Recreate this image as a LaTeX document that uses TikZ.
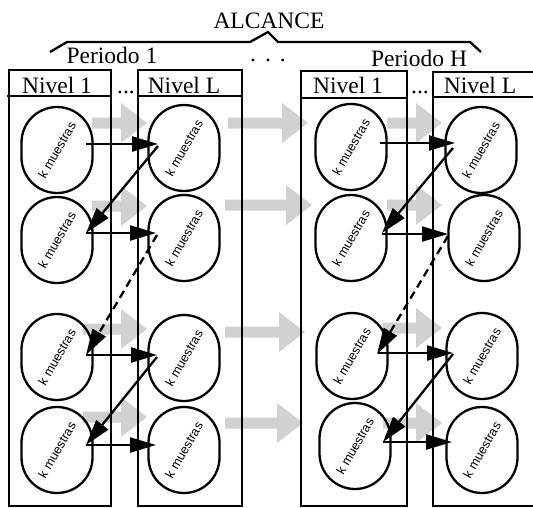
\documentclass[tikz,border=0pt]{standalone}
\usepackage{fontspec}
\setmainfont{Liberation Serif}
\setsansfont{Liberation Sans}
\usepackage{graphicx}
\usetikzlibrary{arrows.meta,shapes.misc}
\begin{document}
\begin{tikzpicture}[x=1pt,y=-1pt,
  line width=2.3pt,
  lbl/.style={font=\fontsize{23.5}{26}\selectfont, inner sep=0pt, anchor=base},
  sample/.style={draw, line width=2.3pt, rounded rectangle, rotate=90,
    minimum width=86pt, minimum height=71pt, inner sep=0pt,
    font=\sffamily\fontsize{12.7}{14}\selectfont},
  link/.style={line width=2.3pt, -{Triangle[length=26pt,width=15pt]}},
  backlink/.style={link},
  pics/garrow/.style={code={
    \fill[black!18] (0,-5.5) -- (#1-26,-5.5) -- (#1-26,-20) -- (#1,0)
      -- (#1-26,20) -- (#1-26,5.5) -- (0,5.5) -- cycle;}}
]
\useasboundingbox (0,0) rectangle (533,507);
\clip (0,0) rectangle (533,507);

% broad grey arrows: level to level and period to period
\foreach \y/\t in {123/92, 206/92, 329/83, 417/83} \pic at (\t,\y) {garrow={147-\t}};
\foreach \y/\t/\h in {123/228/308, 205/225/312, 332/225/305, 423/225/303} \pic at (\t,\y) {garrow={\h-\t}};
\foreach \y/\t in {123/387, 205/387, 328/383, 423/383} \pic at (\t,\y) {garrow={442-\t}};

% scope brace
\node[lbl] (alc) at (269,28) {ALCANCE};
\draw[line join=miter] (50,52) -- (67,42) -- (250,42) -- (268,32) -- (278,42) -- (470,42) -- (481,52);
\node[lbl] (p1) at (112,63) {Periodo 1};
\node[lbl] (ph) at (419,66) {Periodo H};
\node[lbl] (gap) at (268,61) {.\hspace{9pt}.\hspace{9pt}.};

% level columns
\draw (9,70) rectangle (111,506);
\draw (138,70) rectangle (242,506);
\draw (301,71) rectangle (407,506);
\draw (433,72) rectangle (545,506);
\draw (7,96) -- (111,96);
\draw (138,96) -- (242,96);
\draw (300,98) -- (407,98);
\draw (433,97) -- (545,97);

\node[lbl] (n11) at (57,93) {Nivel 1};
\node[lbl] (d1) at (126,93) {...};
\node[lbl] (n1l) at (184,93) {Nivel L};
\node[lbl] (nh1) at (348,93) {Nivel 1};
\node[lbl] (dh) at (420,93) {...};
\node[lbl] (nhl) at (480,93) {Nivel L};

% sample groups
\foreach \n/\x/\y in {a1/57/150, a2/57/240, a3/57/357, a4/57/450,
                      b1/184/148, b2/184/238, b3/184/358, b4/184/450,
                      c1/351/147, c2/351/238, c3/352/356, c4/355/446,
                      d1/481/150, d2/484/238, d3/482/356, d4/482/450}
  \node[sample] (\n) at (\x,\y) {\rotatebox{-30}{k muestras}};

% flow of samples, period 1
\draw[link] ([shift={(29,-6)}]a1.center) -- ([shift={(-26,-4)}]b1.center);
\draw[backlink] ([shift={(-26,-2)}]b1.center) -- ([shift={(29,-7)}]a2.center);
\draw[link] ([shift={(29,-7)}]a2.center) -- ([shift={(-28,-5)}]b2.center);
\draw[backlink, dash pattern=on 8pt off 5pt] ([shift={(-27,-3)}]b2.center) -- ([shift={(29,-2)}]a3.center);
\draw[link] ([shift={(29,-2)}]a3.center) -- ([shift={(-27,-3)}]b3.center);
\draw[backlink] ([shift={(-27,-1)}]b3.center) -- ([shift={(29,-5)}]a4.center);
\draw[link] ([shift={(29,-5)}]a4.center) -- ([shift={(-28,-5)}]b4.center);

% flow of samples, period H
\draw[link] ([shift={(29,-4)}]c1.center) -- ([shift={(-26,-7)}]d1.center);
\draw[backlink] ([shift={(-28,-2)}]d1.center) -- ([shift={(31,-5)}]c2.center);
\draw[link] ([shift={(31,-4)}]c2.center) -- ([shift={(-36,-4)}]d2.center);
\draw[backlink, dash pattern=on 8pt off 5pt] ([shift={(-36,-2)}]d2.center) -- ([shift={(25,-2)}]c3.center);
\draw[link] ([shift={(26,-3)}]c3.center) -- ([shift={(-29,-3)}]d3.center);
\draw[backlink] ([shift={(-29,-2)}]d3.center) -- ([shift={(28,-4)}]c4.center);
\draw[link] ([shift={(28,-4)}]c4.center) -- ([shift={(-30,-8)}]d4.center);
\end{tikzpicture}
\end{document}
